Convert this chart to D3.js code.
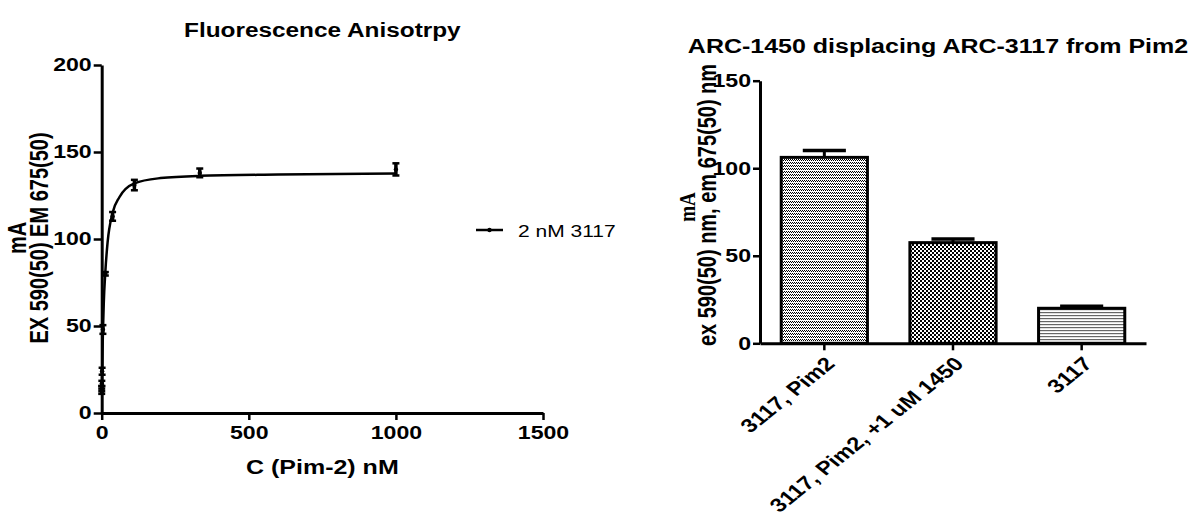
<!DOCTYPE html>
<html><head><meta charset="utf-8">
<script src="https://cdn.jsdelivr.net/npm/d3@7"></script>
<style>
body{margin:0;background:#fff;}
text{font-family:"Liberation Sans",Arial,sans-serif;fill:#000;}
</style></head>
<body>
<svg id="chart" width="1190" height="523"></svg>
<script>
// ---------- Left chart data ----------
const leftTitle = "Fluorescence Anisotrpy";
const concNM = [1000, 333.3, 111.1, 37.04, 12.35, 4.115, 1.372, 0.457, 0.152, 0.051];
const meanMA = [140, 138, 131, 113, 80, 48, 24, 17, 14, 12.5];
const semMA  = [3.5, 2.5, 3, 2.5, 1, 2.5, 2, 1.5, 1.5, 1.5];
const fitX = [0, 0.5, 1.37, 2.5, 4.1, 7, 12.3, 20, 37, 60, 111, 200, 333, 600, 1000];
const fitY = [11, 16, 23, 33, 46, 63, 81, 98, 115, 124, 132, 135, 136.3, 137, 137.6];
const leftXTicks = [0, 500, 1000, 1500];
const leftYTicks = [0, 50, 100, 150, 200];
const legendLabel = "2 nM 3117";

// ---------- Right chart data ----------
const rightTitle = "ARC-1450 displacing ARC-3117 from Pim2";
const barCats = ["3117, Pim2", "3117, Pim2, +1 uM 1450", "3117"];
const barVals = [106.2, 57.5, 20];
const barErr  = [4, 2.1, 1.1];
const rightYTicks = [0, 50, 100, 150];

const SX = 1.25; // horizontal stretch of all text, as in the reference
const svg = d3.select("#chart");

// ---------- defs: patterns ----------
const defs = svg.append("defs");
const p1 = defs.append("pattern").attr("id","pat1").attr("patternUnits","userSpaceOnUse").attr("width",2).attr("height",3);
p1.append("rect").attr("width",2).attr("height",3).attr("fill","#fff");
p1.append("rect").attr("x",0).attr("y",0).attr("width",1).attr("height",1).attr("fill","#000");
p1.append("rect").attr("x",1).attr("y",1).attr("width",1).attr("height",1).attr("fill","#000");
const p2 = defs.append("pattern").attr("id","pat2").attr("patternUnits","userSpaceOnUse").attr("width",4).attr("height",4);
p2.append("rect").attr("width",4).attr("height",4).attr("fill","#fff");
p2.append("rect").attr("x",0).attr("y",0).attr("width",2).attr("height",2).attr("fill","#000");
p2.append("rect").attr("x",2).attr("y",2).attr("width",2).attr("height",2).attr("fill","#000");
const p3 = defs.append("pattern").attr("id","pat3").attr("patternUnits","userSpaceOnUse").attr("width",4).attr("height",3);
p3.append("rect").attr("width",4).attr("height",3).attr("fill","#fff");
p3.append("rect").attr("x",0).attr("y",0).attr("width",4).attr("height",1.2).attr("fill","#666");
const pats = ["url(#pat1)","url(#pat2)","url(#pat3)"];

function stretchTicks(g){
  g.selectAll(".tick text").each(function(){
    const t = d3.select(this);
    const x = +t.attr("x") || 0;
    t.attr("transform", `translate(${x},0) scale(${SX},1) translate(${-x},0)`);
  });
}
function styleAxis(g, fs){
  g.selectAll("path.domain").attr("stroke","#000").attr("stroke-width",3);
  g.selectAll(".tick line").attr("stroke","#000").attr("stroke-width",2.5);
  g.selectAll(".tick text").style("font-family","Liberation Sans, Arial, sans-serif").style("font-weight","bold").style("font-size",fs+"px").attr("fill","#000");
}
function label(x, y, txt, fs, weight, anchor, rot, family){
  return svg.append("text")
    .attr("transform", `translate(${x},${y}) scale(${SX},1)` + (rot ? ` rotate(${rot})` : ""))
    .attr("text-anchor", anchor || "middle")
    .style("font-weight", weight || "bold").style("font-size", fs + "px")
    .style("font-family", family || "Liberation Sans, Arial, sans-serif")
    .text(txt);
}

// ---------- Left chart ----------
const L = {x0:101.7, x1:543, y0:413, y1:65};
const xL = d3.scaleLinear().domain([0,1500]).range([L.x0, L.x1]);
const yL = d3.scaleLinear().domain([0,200]).range([L.y0, L.y1]);

const gxL = svg.append("g").attr("transform",`translate(0,${L.y0})`)
  .call(d3.axisBottom(xL).tickValues(leftXTicks).tickFormat(d3.format("d")).tickSize(7).tickSizeOuter(0).tickPadding(6));
styleAxis(gxL, 18.5); stretchTicks(gxL);
const gyL = svg.append("g").attr("transform",`translate(${L.x0},0)`)
  .call(d3.axisLeft(yL).tickValues(leftYTicks).tickSize(8).tickSizeOuter(0).tickPadding(2));
styleAxis(gyL, 18.5); stretchTicks(gyL);

const line = d3.line().x(d=>xL(d[0])).y(d=>yL(d[1])).curve(d3.curveMonotoneX);
svg.append("path").datum(fitX.map((x,i)=>[x,fitY[i]]))
  .attr("d",line).attr("fill","none").attr("stroke","#000").attr("stroke-width",2.5);

const pts = concNM.map((x,i)=>({x, m:meanMA[i], e:semMA[i]}));
const gp = svg.append("g");
pts.forEach(p=>{
  const cx = xL(p.x);
  gp.append("line").attr("x1",cx).attr("x2",cx).attr("y1",yL(p.m-p.e)).attr("y2",yL(p.m+p.e)).attr("stroke","#000").attr("stroke-width",3.5);
  [p.m-p.e, p.m+p.e].forEach(v=>gp.append("line").attr("x1",cx-3.5).attr("x2",cx+3.5).attr("y1",yL(v)).attr("y2",yL(v)).attr("stroke","#000").attr("stroke-width",2.5));
  gp.append("circle").attr("cx",cx).attr("cy",yL(p.m)).attr("r",2.2).attr("fill","#000");
});

label((L.x0+L.x1)/2, 37, leftTitle, 19.5);
label((L.x0+L.x1)/2, 474, "C (Pim-2) nM", 20);
const lyT = svg.append("text").attr("transform",`translate(26,${238}) scale(${SX},1) rotate(-90)`).attr("text-anchor","middle")
  .style("font-weight","bold").style("font-size","20px");
lyT.append("tspan").attr("x",0).attr("dy",0).text("mA");
lyT.append("tspan").attr("x",0).attr("dy",18).text("EX 590(50)  EM 675(50)");

// legend
const lg = svg.append("g").attr("transform","translate(476,230)");
lg.append("line").attr("x1",0).attr("x2",27).attr("y1",0).attr("y2",0).attr("stroke","#000").attr("stroke-width",2.5);
lg.append("circle").attr("cx",13.5).attr("cy",0).attr("r",2.2).attr("fill","#000");
label(518, 237, legendLabel, 16.8, "normal", "start");

// ---------- Right chart ----------
const R = {x0:760, x1:1146, y0:343.3, y1:80.7};
const xR = d3.scaleBand().domain(barCats).range([R.x0, R.x1]).padding(0);
const yR = d3.scaleLinear().domain([0,150]).range([R.y0, R.y1]);
const bw = xR.bandwidth()*0.67;

const gb = svg.append("g");
barCats.forEach((c,i)=>{
  const cx = xR(c)+xR.bandwidth()/2;
  gb.append("line").attr("x1",cx).attr("x2",cx).attr("y1",yR(barVals[i])).attr("y2",yR(barVals[i]+barErr[i])).attr("stroke","#000").attr("stroke-width",3);
  gb.append("line").attr("x1",cx-bw/4).attr("x2",cx+bw/4).attr("y1",yR(barVals[i]+barErr[i])).attr("y2",yR(barVals[i]+barErr[i])).attr("stroke","#000").attr("stroke-width",3.5);
  gb.append("rect").attr("x",cx-bw/2).attr("y",yR(barVals[i])).attr("width",bw).attr("height",yR(0)-yR(barVals[i]))
    .attr("fill",pats[i]).attr("stroke","#000").attr("stroke-width",3);
});

const gxR = svg.append("g").attr("transform",`translate(0,${R.y0})`)
  .call(d3.axisBottom(xR).tickSize(7).tickSizeOuter(0));
styleAxis(gxR, 19);
gxR.selectAll(".tick text").attr("text-anchor","end").attr("x",0).attr("y",0).attr("dy","0.35em")
  .attr("transform",`translate(6,17) scale(${SX},1) rotate(-45)`);
const gyR = svg.append("g").attr("transform",`translate(${R.x0},0)`)
  .call(d3.axisLeft(yR).tickValues(rightYTicks).tickSize(7).tickSizeOuter(0).tickPadding(2));
styleAxis(gyR, 18.5); stretchTicks(gyR);

label(938, 53, rightTitle, 20);
label(695, 207, "mA", 19, "bold", "middle", -90, "Liberation Serif, Times New Roman, serif");
label(716, 205, "ex 590(50) nm, em 675(50) nm", 20, "bold", "middle", -90);
</script>
</body></html>
